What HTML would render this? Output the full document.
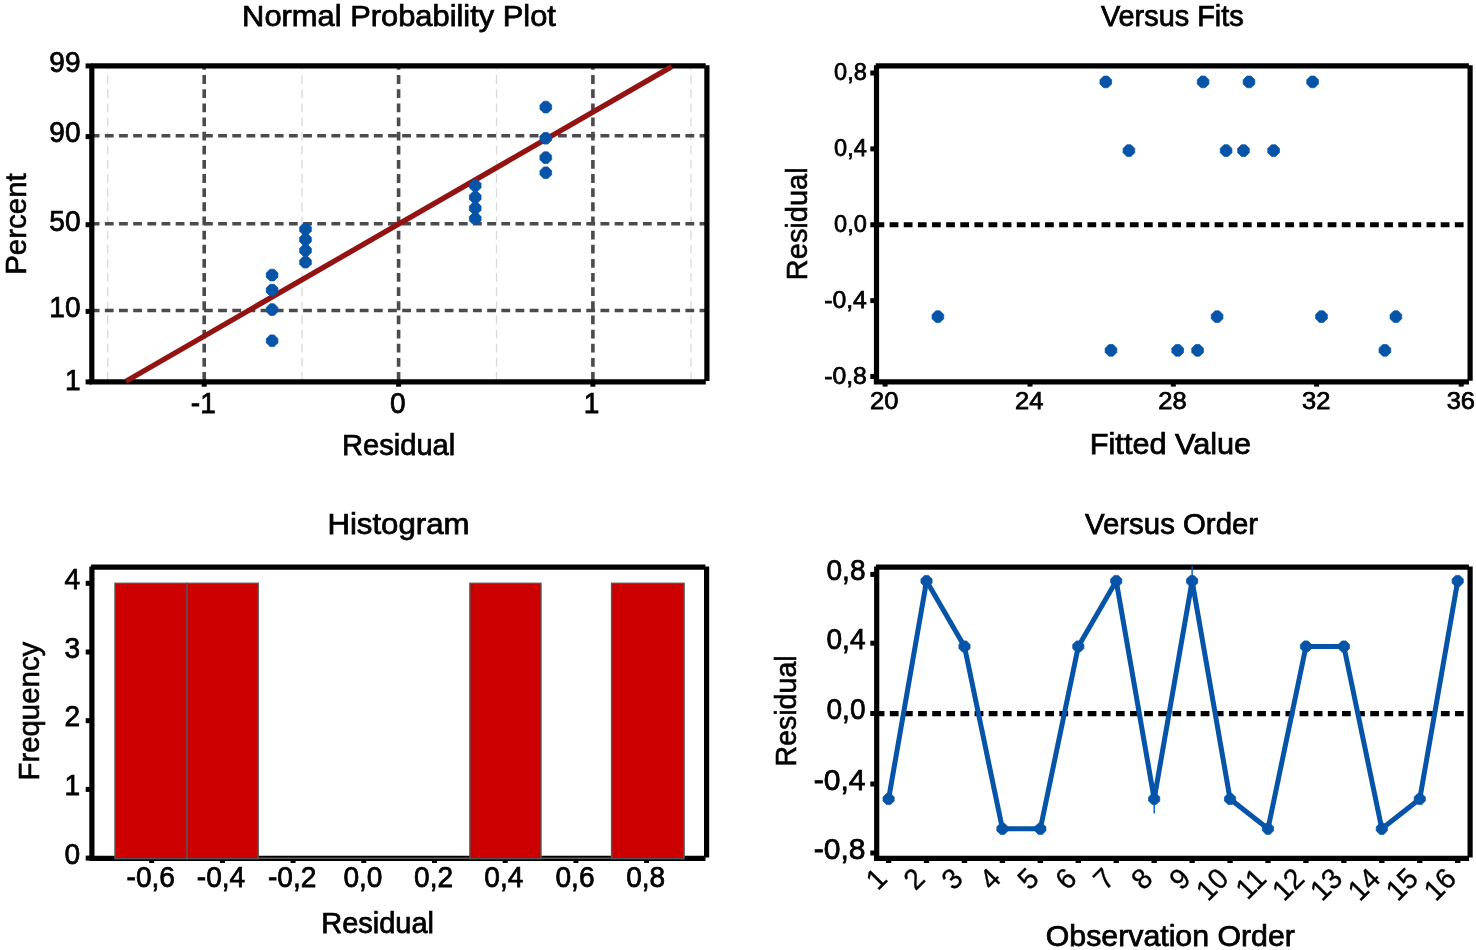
<!DOCTYPE html>
<html lang="en"><head><meta charset="utf-8"><title>Residual Plots</title>
<style>
html,body{margin:0;padding:0;background:#fff;}
body{width:1476px;height:950px;overflow:hidden;}
svg{display:block;}
svg text{font-family:"Liberation Sans", sans-serif;fill:#000;stroke:#000;stroke-width:0.75px;}
svg text.v{stroke-width:0.6px;}
svg text.r{stroke-width:0.35px;}
</style></head><body>
<svg width="1476" height="950" viewBox="0 0 1476 950">
<rect width="1476" height="950" fill="#fff"/>
<g>
<line x1="107.70" y1="380.85" x2="107.70" y2="65.90" stroke="#d8d8d8" stroke-width="1.25" stroke-dasharray="8.8 5.34"/>
<line x1="302.00" y1="380.85" x2="302.00" y2="65.90" stroke="#d8d8d8" stroke-width="1.25" stroke-dasharray="8.8 5.34"/>
<line x1="496.50" y1="380.85" x2="496.50" y2="65.90" stroke="#d8d8d8" stroke-width="1.25" stroke-dasharray="8.8 5.34"/>
<line x1="691.00" y1="380.85" x2="691.00" y2="65.90" stroke="#d8d8d8" stroke-width="1.25" stroke-dasharray="8.8 5.34"/>
<line x1="204.20" y1="380.85" x2="204.20" y2="65.90" stroke="#4b4b4b" stroke-width="3.6" stroke-dasharray="8.8 5.34"/>
<line x1="398.60" y1="380.85" x2="398.60" y2="65.90" stroke="#4b4b4b" stroke-width="3.6" stroke-dasharray="8.8 5.34"/>
<line x1="592.90" y1="380.85" x2="592.90" y2="65.90" stroke="#4b4b4b" stroke-width="3.6" stroke-dasharray="8.8 5.34"/>
<line x1="90.70" y1="135.70" x2="706.90" y2="135.70" stroke="#4b4b4b" stroke-width="3.6" stroke-dasharray="8.8 5.36"/>
<line x1="90.70" y1="223.80" x2="706.90" y2="223.80" stroke="#4b4b4b" stroke-width="3.6" stroke-dasharray="8.8 5.36"/>
<line x1="90.70" y1="310.50" x2="706.90" y2="310.50" stroke="#4b4b4b" stroke-width="3.6" stroke-dasharray="8.8 5.36"/>
<line x1="91.00" y1="65.90" x2="705.70" y2="65.90" stroke="#000" stroke-width="5.2"/>
<line x1="89.20" y1="381.90" x2="705.80" y2="381.90" stroke="#000" stroke-width="5.2"/>
<line x1="91.80" y1="65.30" x2="91.80" y2="383.50" stroke="#000" stroke-width="5.2"/>
<line x1="706.90" y1="65.30" x2="706.90" y2="380.90" stroke="#000" stroke-width="5.2"/>
<line x1="126.00" y1="381.21" x2="671.70" y2="66.59" stroke="#931212" stroke-width="5.3"/>
<polygon points="274.20,334.89 277.95,338.64 277.95,342.84 274.20,346.59 270.00,346.59 266.25,342.84 266.25,338.64 270.00,334.89" fill="#0554A8" stroke="#0554A8" stroke-width="0.7" stroke-linejoin="round"/>
<polygon points="274.20,303.69 277.95,307.44 277.95,311.64 274.20,315.39 270.00,315.39 266.25,311.64 266.25,307.44 270.00,303.69" fill="#0554A8" stroke="#0554A8" stroke-width="0.7" stroke-linejoin="round"/>
<polygon points="274.20,284.31 277.95,288.06 277.95,292.26 274.20,296.01 270.00,296.01 266.25,292.26 266.25,288.06 270.00,284.31" fill="#0554A8" stroke="#0554A8" stroke-width="0.7" stroke-linejoin="round"/>
<polygon points="274.20,269.22 277.95,272.97 277.95,277.17 274.20,280.92 270.00,280.92 266.25,277.17 266.25,272.97 270.00,269.22" fill="#0554A8" stroke="#0554A8" stroke-width="0.7" stroke-linejoin="round"/>
<polygon points="307.60,256.31 311.35,260.06 311.35,264.26 307.60,268.01 303.40,268.01 299.65,264.26 299.65,260.06 303.40,256.31" fill="#0554A8" stroke="#0554A8" stroke-width="0.7" stroke-linejoin="round"/>
<polygon points="307.60,244.67 311.35,248.42 311.35,252.62 307.60,256.37 303.40,256.37 299.65,252.62 299.65,248.42 303.40,244.67" fill="#0554A8" stroke="#0554A8" stroke-width="0.7" stroke-linejoin="round"/>
<polygon points="307.60,233.76 311.35,237.51 311.35,241.71 307.60,245.46 303.40,245.46 299.65,241.71 299.65,237.51 303.40,233.76" fill="#0554A8" stroke="#0554A8" stroke-width="0.7" stroke-linejoin="round"/>
<polygon points="307.60,223.25 311.35,227.00 311.35,231.20 307.60,234.95 303.40,234.95 299.65,231.20 299.65,227.00 303.40,223.25" fill="#0554A8" stroke="#0554A8" stroke-width="0.7" stroke-linejoin="round"/>
<polygon points="477.30,212.85 481.05,216.60 481.05,220.80 477.30,224.55 473.10,224.55 469.35,220.80 469.35,216.60 473.10,212.85" fill="#0554A8" stroke="#0554A8" stroke-width="0.7" stroke-linejoin="round"/>
<polygon points="477.30,202.34 481.05,206.09 481.05,210.29 477.30,214.04 473.10,214.04 469.35,210.29 469.35,206.09 473.10,202.34" fill="#0554A8" stroke="#0554A8" stroke-width="0.7" stroke-linejoin="round"/>
<polygon points="477.30,191.43 481.05,195.18 481.05,199.38 477.30,203.13 473.10,203.13 469.35,199.38 469.35,195.18 473.10,191.43" fill="#0554A8" stroke="#0554A8" stroke-width="0.7" stroke-linejoin="round"/>
<polygon points="477.30,179.79 481.05,183.54 481.05,187.74 477.30,191.49 473.10,191.49 469.35,187.74 469.35,183.54 473.10,179.79" fill="#0554A8" stroke="#0554A8" stroke-width="0.7" stroke-linejoin="round"/>
<polygon points="547.90,166.88 551.65,170.63 551.65,174.83 547.90,178.58 543.70,178.58 539.95,174.83 539.95,170.63 543.70,166.88" fill="#0554A8" stroke="#0554A8" stroke-width="0.7" stroke-linejoin="round"/>
<polygon points="547.90,151.79 551.65,155.54 551.65,159.74 547.90,163.49 543.70,163.49 539.95,159.74 539.95,155.54 543.70,151.79" fill="#0554A8" stroke="#0554A8" stroke-width="0.7" stroke-linejoin="round"/>
<polygon points="547.90,132.41 551.65,136.16 551.65,140.36 547.90,144.11 543.70,144.11 539.95,140.36 539.95,136.16 543.70,132.41" fill="#0554A8" stroke="#0554A8" stroke-width="0.7" stroke-linejoin="round"/>
<polygon points="547.90,101.21 551.65,104.96 551.65,109.16 547.90,112.91 543.70,112.91 539.95,109.16 539.95,104.96 543.70,101.21" fill="#0554A8" stroke="#0554A8" stroke-width="0.7" stroke-linejoin="round"/>
<line x1="85.60" y1="65.90" x2="91.80" y2="65.90" stroke="#000" stroke-width="5.0"/>
<line x1="85.60" y1="136.60" x2="91.80" y2="136.60" stroke="#000" stroke-width="5.0"/>
<line x1="85.60" y1="224.70" x2="91.80" y2="224.70" stroke="#000" stroke-width="5.0"/>
<line x1="85.60" y1="311.40" x2="91.80" y2="311.40" stroke="#000" stroke-width="5.0"/>
<line x1="85.60" y1="381.90" x2="91.80" y2="381.90" stroke="#000" stroke-width="5.0"/>
<line x1="204.20" y1="381.90" x2="204.20" y2="386.70" stroke="#000" stroke-width="5.0"/>
<line x1="398.60" y1="381.90" x2="398.60" y2="386.70" stroke="#000" stroke-width="5.0"/>
<line x1="592.90" y1="381.90" x2="592.90" y2="386.70" stroke="#000" stroke-width="5.0"/>
<line x1="875.70" y1="65.95" x2="1468.90" y2="65.95" stroke="#000" stroke-width="5.2"/>
<line x1="873.90" y1="381.80" x2="1469.00" y2="381.80" stroke="#000" stroke-width="5.2"/>
<line x1="876.50" y1="65.35" x2="876.50" y2="383.40" stroke="#000" stroke-width="5.2"/>
<line x1="1470.10" y1="65.35" x2="1470.10" y2="380.80" stroke="#000" stroke-width="5.2"/>
<line x1="875.50" y1="224.75" x2="1470.10" y2="224.75" stroke="#000" stroke-width="5.1" stroke-dasharray="8.75 5.38"/>
<polygon points="1107.90,76.06 1111.65,79.81 1111.65,84.01 1107.90,87.76 1103.70,87.76 1099.95,84.01 1099.95,79.81 1103.70,76.06" fill="#0554A8" stroke="#0554A8" stroke-width="0.7" stroke-linejoin="round"/>
<polygon points="1205.20,76.06 1208.95,79.81 1208.95,84.01 1205.20,87.76 1201.00,87.76 1197.25,84.01 1197.25,79.81 1201.00,76.06" fill="#0554A8" stroke="#0554A8" stroke-width="0.7" stroke-linejoin="round"/>
<polygon points="1251.10,76.06 1254.85,79.81 1254.85,84.01 1251.10,87.76 1246.90,87.76 1243.15,84.01 1243.15,79.81 1246.90,76.06" fill="#0554A8" stroke="#0554A8" stroke-width="0.7" stroke-linejoin="round"/>
<polygon points="1314.70,76.06 1318.45,79.81 1318.45,84.01 1314.70,87.76 1310.50,87.76 1306.75,84.01 1306.75,79.81 1310.50,76.06" fill="#0554A8" stroke="#0554A8" stroke-width="0.7" stroke-linejoin="round"/>
<polygon points="1131.00,144.73 1134.75,148.48 1134.75,152.68 1131.00,156.43 1126.80,156.43 1123.05,152.68 1123.05,148.48 1126.80,144.73" fill="#0554A8" stroke="#0554A8" stroke-width="0.7" stroke-linejoin="round"/>
<polygon points="1228.20,144.73 1231.95,148.48 1231.95,152.68 1228.20,156.43 1224.00,156.43 1220.25,152.68 1220.25,148.48 1224.00,144.73" fill="#0554A8" stroke="#0554A8" stroke-width="0.7" stroke-linejoin="round"/>
<polygon points="1245.60,144.73 1249.35,148.48 1249.35,152.68 1245.60,156.43 1241.40,156.43 1237.65,152.68 1237.65,148.48 1241.40,144.73" fill="#0554A8" stroke="#0554A8" stroke-width="0.7" stroke-linejoin="round"/>
<polygon points="1275.70,144.73 1279.45,148.48 1279.45,152.68 1275.70,156.43 1271.50,156.43 1267.75,152.68 1267.75,148.48 1271.50,144.73" fill="#0554A8" stroke="#0554A8" stroke-width="0.7" stroke-linejoin="round"/>
<polygon points="940.00,310.81 943.75,314.56 943.75,318.76 940.00,322.51 935.80,322.51 932.05,318.76 932.05,314.56 935.80,310.81" fill="#0554A8" stroke="#0554A8" stroke-width="0.7" stroke-linejoin="round"/>
<polygon points="1219.20,310.81 1222.95,314.56 1222.95,318.76 1219.20,322.51 1215.00,322.51 1211.25,318.76 1211.25,314.56 1215.00,310.81" fill="#0554A8" stroke="#0554A8" stroke-width="0.7" stroke-linejoin="round"/>
<polygon points="1323.60,310.81 1327.35,314.56 1327.35,318.76 1323.60,322.51 1319.40,322.51 1315.65,318.76 1315.65,314.56 1319.40,310.81" fill="#0554A8" stroke="#0554A8" stroke-width="0.7" stroke-linejoin="round"/>
<polygon points="1398.00,310.81 1401.75,314.56 1401.75,318.76 1398.00,322.51 1393.80,322.51 1390.05,318.76 1390.05,314.56 1393.80,310.81" fill="#0554A8" stroke="#0554A8" stroke-width="0.7" stroke-linejoin="round"/>
<polygon points="1113.10,344.48 1116.85,348.23 1116.85,352.43 1113.10,356.18 1108.90,356.18 1105.15,352.43 1105.15,348.23 1108.90,344.48" fill="#0554A8" stroke="#0554A8" stroke-width="0.7" stroke-linejoin="round"/>
<polygon points="1179.80,344.48 1183.55,348.23 1183.55,352.43 1179.80,356.18 1175.60,356.18 1171.85,352.43 1171.85,348.23 1175.60,344.48" fill="#0554A8" stroke="#0554A8" stroke-width="0.7" stroke-linejoin="round"/>
<polygon points="1199.70,344.48 1203.45,348.23 1203.45,352.43 1199.70,356.18 1195.50,356.18 1191.75,352.43 1191.75,348.23 1195.50,344.48" fill="#0554A8" stroke="#0554A8" stroke-width="0.7" stroke-linejoin="round"/>
<polygon points="1387.00,344.48 1390.75,348.23 1390.75,352.43 1387.00,356.18 1382.80,356.18 1379.05,352.43 1379.05,348.23 1382.80,344.48" fill="#0554A8" stroke="#0554A8" stroke-width="0.7" stroke-linejoin="round"/>
<line x1="870.30" y1="72.99" x2="876.50" y2="72.99" stroke="#000" stroke-width="5.0"/>
<line x1="870.30" y1="148.87" x2="876.50" y2="148.87" stroke="#000" stroke-width="5.0"/>
<line x1="870.30" y1="224.75" x2="876.50" y2="224.75" stroke="#000" stroke-width="5.0"/>
<line x1="870.30" y1="300.63" x2="876.50" y2="300.63" stroke="#000" stroke-width="5.0"/>
<line x1="870.30" y1="376.51" x2="876.50" y2="376.51" stroke="#000" stroke-width="5.0"/>
<line x1="885.10" y1="381.80" x2="885.10" y2="386.60" stroke="#000" stroke-width="5.0"/>
<line x1="1030.00" y1="381.80" x2="1030.00" y2="386.60" stroke="#000" stroke-width="5.0"/>
<line x1="1173.30" y1="381.80" x2="1173.30" y2="386.60" stroke="#000" stroke-width="5.0"/>
<line x1="1316.60" y1="381.80" x2="1316.60" y2="386.60" stroke="#000" stroke-width="5.0"/>
<line x1="1461.20" y1="381.80" x2="1461.20" y2="386.60" stroke="#000" stroke-width="5.0"/>
<line x1="91.10" y1="567.20" x2="705.40" y2="567.20" stroke="#000" stroke-width="5.2"/>
<line x1="89.30" y1="858.40" x2="705.50" y2="858.40" stroke="#000" stroke-width="5.2"/>
<line x1="91.90" y1="566.60" x2="91.90" y2="860.00" stroke="#000" stroke-width="5.2"/>
<line x1="706.60" y1="566.60" x2="706.60" y2="857.40" stroke="#000" stroke-width="5.2"/>
<line x1="151.70" y1="858.40" x2="151.70" y2="863.00" stroke="#000" stroke-width="5.0"/>
<line x1="222.40" y1="858.40" x2="222.40" y2="863.00" stroke="#000" stroke-width="5.0"/>
<line x1="293.10" y1="858.40" x2="293.10" y2="863.00" stroke="#000" stroke-width="5.0"/>
<line x1="363.80" y1="858.40" x2="363.80" y2="863.00" stroke="#000" stroke-width="5.0"/>
<line x1="434.50" y1="858.40" x2="434.50" y2="863.00" stroke="#000" stroke-width="5.0"/>
<line x1="505.20" y1="858.40" x2="505.20" y2="863.00" stroke="#000" stroke-width="5.0"/>
<line x1="575.90" y1="858.40" x2="575.90" y2="863.00" stroke="#000" stroke-width="5.0"/>
<line x1="646.60" y1="858.40" x2="646.60" y2="863.00" stroke="#000" stroke-width="5.0"/>
<line x1="115.00" y1="858.30" x2="684.10" y2="858.30" stroke="#5a5a5a" stroke-width="1.5"/>
<rect x="115.00" y="583.30" width="72.20" height="275.40" fill="#CC0000" stroke="#555" stroke-width="1.4"/>
<rect x="187.20" y="583.30" width="71.00" height="275.40" fill="#CC0000" stroke="#555" stroke-width="1.4"/>
<rect x="469.90" y="583.30" width="71.10" height="275.40" fill="#CC0000" stroke="#555" stroke-width="1.4"/>
<rect x="611.60" y="583.30" width="72.50" height="275.40" fill="#CC0000" stroke="#555" stroke-width="1.4"/>
<line x1="85.70" y1="858.10" x2="91.90" y2="858.10" stroke="#000" stroke-width="5.0"/>
<line x1="85.70" y1="789.40" x2="91.90" y2="789.40" stroke="#000" stroke-width="5.0"/>
<line x1="85.70" y1="720.70" x2="91.90" y2="720.70" stroke="#000" stroke-width="5.0"/>
<line x1="85.70" y1="652.00" x2="91.90" y2="652.00" stroke="#000" stroke-width="5.0"/>
<line x1="85.70" y1="583.30" x2="91.90" y2="583.30" stroke="#000" stroke-width="5.0"/>
<line x1="875.90" y1="567.20" x2="1468.90" y2="567.20" stroke="#000" stroke-width="5.2"/>
<line x1="874.10" y1="858.40" x2="1469.00" y2="858.40" stroke="#000" stroke-width="5.2"/>
<line x1="876.70" y1="566.60" x2="876.70" y2="860.00" stroke="#000" stroke-width="5.2"/>
<line x1="1470.10" y1="566.60" x2="1470.10" y2="857.40" stroke="#000" stroke-width="5.2"/>
<line x1="875.70" y1="713.60" x2="1470.10" y2="713.60" stroke="#000" stroke-width="5.1" stroke-dasharray="8.75 5.38"/>
<polyline fill="none" stroke="#0554A8" stroke-width="5.0" stroke-linejoin="round" points="888.60,799.00 926.54,581.00 964.48,646.50 1002.42,828.80 1040.36,828.80 1078.30,646.50 1116.24,581.00 1154.18,799.00 1192.12,581.00 1230.06,799.00 1268.00,828.80 1305.94,646.50 1343.88,646.50 1381.82,828.80 1419.76,799.00 1457.70,581.00"/>
<line x1="1192.12" y1="581.00" x2="1192.12" y2="566.00" stroke="#0554A8" stroke-width="1.4"/>
<line x1="1154.18" y1="799.00" x2="1154.18" y2="813.60" stroke="#0554A8" stroke-width="1.4"/>
<polygon points="890.60,793.40 894.20,797.00 894.20,801.00 890.60,804.60 886.60,804.60 883.00,801.00 883.00,797.00 886.60,793.40" fill="#0554A8" stroke="#0554A8" stroke-width="0.7" stroke-linejoin="round"/>
<polygon points="928.54,575.40 932.14,579.00 932.14,583.00 928.54,586.60 924.54,586.60 920.94,583.00 920.94,579.00 924.54,575.40" fill="#0554A8" stroke="#0554A8" stroke-width="0.7" stroke-linejoin="round"/>
<polygon points="966.48,640.90 970.08,644.50 970.08,648.50 966.48,652.10 962.48,652.10 958.88,648.50 958.88,644.50 962.48,640.90" fill="#0554A8" stroke="#0554A8" stroke-width="0.7" stroke-linejoin="round"/>
<polygon points="1004.42,823.20 1008.02,826.80 1008.02,830.80 1004.42,834.40 1000.42,834.40 996.82,830.80 996.82,826.80 1000.42,823.20" fill="#0554A8" stroke="#0554A8" stroke-width="0.7" stroke-linejoin="round"/>
<polygon points="1042.36,823.20 1045.96,826.80 1045.96,830.80 1042.36,834.40 1038.36,834.40 1034.76,830.80 1034.76,826.80 1038.36,823.20" fill="#0554A8" stroke="#0554A8" stroke-width="0.7" stroke-linejoin="round"/>
<polygon points="1080.30,640.90 1083.90,644.50 1083.90,648.50 1080.30,652.10 1076.30,652.10 1072.70,648.50 1072.70,644.50 1076.30,640.90" fill="#0554A8" stroke="#0554A8" stroke-width="0.7" stroke-linejoin="round"/>
<polygon points="1118.24,575.40 1121.84,579.00 1121.84,583.00 1118.24,586.60 1114.24,586.60 1110.64,583.00 1110.64,579.00 1114.24,575.40" fill="#0554A8" stroke="#0554A8" stroke-width="0.7" stroke-linejoin="round"/>
<polygon points="1156.18,793.40 1159.78,797.00 1159.78,801.00 1156.18,804.60 1152.18,804.60 1148.58,801.00 1148.58,797.00 1152.18,793.40" fill="#0554A8" stroke="#0554A8" stroke-width="0.7" stroke-linejoin="round"/>
<polygon points="1194.12,575.40 1197.72,579.00 1197.72,583.00 1194.12,586.60 1190.12,586.60 1186.52,583.00 1186.52,579.00 1190.12,575.40" fill="#0554A8" stroke="#0554A8" stroke-width="0.7" stroke-linejoin="round"/>
<polygon points="1232.06,793.40 1235.66,797.00 1235.66,801.00 1232.06,804.60 1228.06,804.60 1224.46,801.00 1224.46,797.00 1228.06,793.40" fill="#0554A8" stroke="#0554A8" stroke-width="0.7" stroke-linejoin="round"/>
<polygon points="1270.00,823.20 1273.60,826.80 1273.60,830.80 1270.00,834.40 1266.00,834.40 1262.40,830.80 1262.40,826.80 1266.00,823.20" fill="#0554A8" stroke="#0554A8" stroke-width="0.7" stroke-linejoin="round"/>
<polygon points="1307.94,640.90 1311.54,644.50 1311.54,648.50 1307.94,652.10 1303.94,652.10 1300.34,648.50 1300.34,644.50 1303.94,640.90" fill="#0554A8" stroke="#0554A8" stroke-width="0.7" stroke-linejoin="round"/>
<polygon points="1345.88,640.90 1349.48,644.50 1349.48,648.50 1345.88,652.10 1341.88,652.10 1338.28,648.50 1338.28,644.50 1341.88,640.90" fill="#0554A8" stroke="#0554A8" stroke-width="0.7" stroke-linejoin="round"/>
<polygon points="1383.82,823.20 1387.42,826.80 1387.42,830.80 1383.82,834.40 1379.82,834.40 1376.22,830.80 1376.22,826.80 1379.82,823.20" fill="#0554A8" stroke="#0554A8" stroke-width="0.7" stroke-linejoin="round"/>
<polygon points="1421.76,793.40 1425.36,797.00 1425.36,801.00 1421.76,804.60 1417.76,804.60 1414.16,801.00 1414.16,797.00 1417.76,793.40" fill="#0554A8" stroke="#0554A8" stroke-width="0.7" stroke-linejoin="round"/>
<polygon points="1459.70,575.40 1463.30,579.00 1463.30,583.00 1459.70,586.60 1455.70,586.60 1452.10,583.00 1452.10,579.00 1455.70,575.40" fill="#0554A8" stroke="#0554A8" stroke-width="0.7" stroke-linejoin="round"/>
<line x1="870.30" y1="574.40" x2="876.70" y2="574.40" stroke="#000" stroke-width="5.0"/>
<line x1="870.30" y1="643.20" x2="876.70" y2="643.20" stroke="#000" stroke-width="5.0"/>
<line x1="870.30" y1="713.50" x2="876.70" y2="713.50" stroke="#000" stroke-width="5.0"/>
<line x1="870.30" y1="784.00" x2="876.70" y2="784.00" stroke="#000" stroke-width="5.0"/>
<line x1="870.30" y1="853.00" x2="876.70" y2="853.00" stroke="#000" stroke-width="5.0"/>
<line x1="888.60" y1="858.40" x2="888.60" y2="863.00" stroke="#000" stroke-width="5.4"/>
<line x1="926.54" y1="858.40" x2="926.54" y2="863.00" stroke="#000" stroke-width="5.4"/>
<line x1="964.48" y1="858.40" x2="964.48" y2="863.00" stroke="#000" stroke-width="5.4"/>
<line x1="1002.42" y1="858.40" x2="1002.42" y2="863.00" stroke="#000" stroke-width="5.4"/>
<line x1="1040.36" y1="858.40" x2="1040.36" y2="863.00" stroke="#000" stroke-width="5.4"/>
<line x1="1078.30" y1="858.40" x2="1078.30" y2="863.00" stroke="#000" stroke-width="5.4"/>
<line x1="1116.24" y1="858.40" x2="1116.24" y2="863.00" stroke="#000" stroke-width="5.4"/>
<line x1="1154.18" y1="858.40" x2="1154.18" y2="863.00" stroke="#000" stroke-width="5.4"/>
<line x1="1192.12" y1="858.40" x2="1192.12" y2="863.00" stroke="#000" stroke-width="5.4"/>
<line x1="1230.06" y1="858.40" x2="1230.06" y2="863.00" stroke="#000" stroke-width="5.4"/>
<line x1="1268.00" y1="858.40" x2="1268.00" y2="863.00" stroke="#000" stroke-width="5.4"/>
<line x1="1305.94" y1="858.40" x2="1305.94" y2="863.00" stroke="#000" stroke-width="5.4"/>
<line x1="1343.88" y1="858.40" x2="1343.88" y2="863.00" stroke="#000" stroke-width="5.4"/>
<line x1="1381.82" y1="858.40" x2="1381.82" y2="863.00" stroke="#000" stroke-width="5.4"/>
<line x1="1419.76" y1="858.40" x2="1419.76" y2="863.00" stroke="#000" stroke-width="5.4"/>
<line x1="1457.70" y1="858.40" x2="1457.70" y2="863.00" stroke="#000" stroke-width="5.4"/>
</g>
<g>
<text x="49.37" y="71.60" font-size="28.8" textLength="31.23" lengthAdjust="spacingAndGlyphs">99</text>
<text x="49.37" y="142.40" font-size="28.8" textLength="31.23" lengthAdjust="spacingAndGlyphs">90</text>
<text x="49.37" y="231.20" font-size="28.8" textLength="31.23" lengthAdjust="spacingAndGlyphs">50</text>
<text x="49.37" y="316.90" font-size="28.8" textLength="31.23" lengthAdjust="spacingAndGlyphs">10</text>
<text x="64.98" y="389.60" font-size="28.8" textLength="15.62" lengthAdjust="spacingAndGlyphs">1</text>
<text x="190.83" y="412.60" font-size="28.8" textLength="24.96" lengthAdjust="spacingAndGlyphs">-1</text>
<text x="389.90" y="412.60" font-size="28.8" textLength="15.62" lengthAdjust="spacingAndGlyphs">0</text>
<text x="583.71" y="412.60" font-size="28.8" textLength="15.62" lengthAdjust="spacingAndGlyphs">1</text>
<text x="242.13" y="25.50" font-size="29.8" textLength="313.82" lengthAdjust="spacingAndGlyphs">Normal Probability Plot</text>
<text x="341.94" y="454.80" font-size="29.8" textLength="113.34" lengthAdjust="spacingAndGlyphs">Residual</text>
<text transform="translate(26.10,272.80) rotate(-90)" x="-1.98" y="0" class="v" font-size="29.8" textLength="101.46" lengthAdjust="spacingAndGlyphs">Percent</text>
<text x="834.04" y="79.99" font-size="24.3" textLength="32.76" lengthAdjust="spacingAndGlyphs">0,8</text>
<text x="834.04" y="155.87" font-size="24.3" textLength="32.76" lengthAdjust="spacingAndGlyphs">0,4</text>
<text x="834.04" y="231.75" font-size="24.3" textLength="32.76" lengthAdjust="spacingAndGlyphs">0,0</text>
<text x="824.16" y="307.63" font-size="24.3" textLength="42.64" lengthAdjust="spacingAndGlyphs">-0,4</text>
<text x="824.16" y="383.51" font-size="24.3" textLength="42.64" lengthAdjust="spacingAndGlyphs">-0,8</text>
<text x="870.06" y="409.00" font-size="24.3" textLength="28.38" lengthAdjust="spacingAndGlyphs">20</text>
<text x="1014.96" y="409.00" font-size="24.3" textLength="28.38" lengthAdjust="spacingAndGlyphs">24</text>
<text x="1158.26" y="409.00" font-size="24.3" textLength="28.38" lengthAdjust="spacingAndGlyphs">28</text>
<text x="1302.08" y="409.00" font-size="24.3" textLength="28.38" lengthAdjust="spacingAndGlyphs">32</text>
<text x="1446.68" y="409.00" font-size="24.3" textLength="28.38" lengthAdjust="spacingAndGlyphs">36</text>
<text x="1100.90" y="25.50" font-size="29.8" textLength="142.77" lengthAdjust="spacingAndGlyphs">Versus Fits</text>
<text x="1089.84" y="454.40" font-size="29.8" textLength="161.35" lengthAdjust="spacingAndGlyphs">Fitted Value</text>
<text transform="translate(806.80,278.20) rotate(-90)" x="-1.94" y="0" class="v" font-size="29.8" textLength="112.72" lengthAdjust="spacingAndGlyphs">Residual</text>
<text x="64.38" y="863.80" font-size="28.8" textLength="15.62" lengthAdjust="spacingAndGlyphs">0</text>
<text x="64.38" y="795.10" font-size="28.8" textLength="15.62" lengthAdjust="spacingAndGlyphs">1</text>
<text x="64.38" y="726.40" font-size="28.8" textLength="15.62" lengthAdjust="spacingAndGlyphs">2</text>
<text x="64.38" y="657.70" font-size="28.8" textLength="15.62" lengthAdjust="spacingAndGlyphs">3</text>
<text x="64.38" y="589.00" font-size="28.8" textLength="15.62" lengthAdjust="spacingAndGlyphs">4</text>
<text x="126.62" y="887.40" font-size="28.8" textLength="48.38" lengthAdjust="spacingAndGlyphs">-0,6</text>
<text x="196.83" y="887.40" font-size="28.8" textLength="48.38" lengthAdjust="spacingAndGlyphs">-0,4</text>
<text x="268.02" y="887.40" font-size="28.8" textLength="48.38" lengthAdjust="spacingAndGlyphs">-0,2</text>
<text x="343.39" y="887.40" font-size="28.8" textLength="39.03" lengthAdjust="spacingAndGlyphs">0,0</text>
<text x="414.09" y="887.40" font-size="28.8" textLength="39.03" lengthAdjust="spacingAndGlyphs">0,2</text>
<text x="484.30" y="887.40" font-size="28.8" textLength="39.03" lengthAdjust="spacingAndGlyphs">0,4</text>
<text x="555.49" y="887.40" font-size="28.8" textLength="39.03" lengthAdjust="spacingAndGlyphs">0,6</text>
<text x="626.19" y="887.40" font-size="28.8" textLength="39.03" lengthAdjust="spacingAndGlyphs">0,8</text>
<text x="327.41" y="534.30" font-size="29.8" textLength="142.10" lengthAdjust="spacingAndGlyphs">Histogram</text>
<text x="321.25" y="933.30" font-size="29.8" textLength="112.82" lengthAdjust="spacingAndGlyphs">Residual</text>
<text transform="translate(39.20,778.60) rotate(-90)" x="-1.97" y="0" class="v" font-size="29.8" textLength="138.87" lengthAdjust="spacingAndGlyphs">Frequency</text>
<text x="826.47" y="580.20" font-size="28.8" textLength="39.03" lengthAdjust="spacingAndGlyphs">0,8</text>
<text x="826.47" y="649.00" font-size="28.8" textLength="39.03" lengthAdjust="spacingAndGlyphs">0,4</text>
<text x="826.47" y="719.30" font-size="28.8" textLength="39.03" lengthAdjust="spacingAndGlyphs">0,0</text>
<text x="813.73" y="789.80" font-size="28.8" textLength="51.77" lengthAdjust="spacingAndGlyphs">-0,4</text>
<text x="813.73" y="858.80" font-size="28.8" textLength="51.77" lengthAdjust="spacingAndGlyphs">-0,8</text>
<text transform="translate(888.70,880.20) rotate(-45)" x="-15.62" y="0" class="r" font-size="28.8" textLength="15.62" lengthAdjust="spacingAndGlyphs">1</text>
<text transform="translate(926.64,880.20) rotate(-45)" x="-15.62" y="0" class="r" font-size="28.8" textLength="15.62" lengthAdjust="spacingAndGlyphs">2</text>
<text transform="translate(964.58,880.20) rotate(-45)" x="-15.62" y="0" class="r" font-size="28.8" textLength="15.62" lengthAdjust="spacingAndGlyphs">3</text>
<text transform="translate(1002.52,880.20) rotate(-45)" x="-15.62" y="0" class="r" font-size="28.8" textLength="15.62" lengthAdjust="spacingAndGlyphs">4</text>
<text transform="translate(1040.46,880.20) rotate(-45)" x="-15.62" y="0" class="r" font-size="28.8" textLength="15.62" lengthAdjust="spacingAndGlyphs">5</text>
<text transform="translate(1078.40,880.20) rotate(-45)" x="-15.62" y="0" class="r" font-size="28.8" textLength="15.62" lengthAdjust="spacingAndGlyphs">6</text>
<text transform="translate(1116.34,880.20) rotate(-45)" x="-15.62" y="0" class="r" font-size="28.8" textLength="15.62" lengthAdjust="spacingAndGlyphs">7</text>
<text transform="translate(1154.28,880.20) rotate(-45)" x="-15.62" y="0" class="r" font-size="28.8" textLength="15.62" lengthAdjust="spacingAndGlyphs">8</text>
<text transform="translate(1192.22,880.20) rotate(-45)" x="-15.62" y="0" class="r" font-size="28.8" textLength="15.62" lengthAdjust="spacingAndGlyphs">9</text>
<text transform="translate(1230.16,880.20) rotate(-45)" x="-31.23" y="0" class="r" font-size="28.8" textLength="31.23" lengthAdjust="spacingAndGlyphs">10</text>
<text transform="translate(1268.10,880.20) rotate(-45)" x="-29.15" y="0" class="r" font-size="28.8" textLength="29.15" lengthAdjust="spacingAndGlyphs">11</text>
<text transform="translate(1306.04,880.20) rotate(-45)" x="-31.23" y="0" class="r" font-size="28.8" textLength="31.23" lengthAdjust="spacingAndGlyphs">12</text>
<text transform="translate(1343.98,880.20) rotate(-45)" x="-31.23" y="0" class="r" font-size="28.8" textLength="31.23" lengthAdjust="spacingAndGlyphs">13</text>
<text transform="translate(1381.92,880.20) rotate(-45)" x="-31.23" y="0" class="r" font-size="28.8" textLength="31.23" lengthAdjust="spacingAndGlyphs">14</text>
<text transform="translate(1419.86,880.20) rotate(-45)" x="-31.23" y="0" class="r" font-size="28.8" textLength="31.23" lengthAdjust="spacingAndGlyphs">15</text>
<text transform="translate(1457.80,880.20) rotate(-45)" x="-31.23" y="0" class="r" font-size="28.8" textLength="31.23" lengthAdjust="spacingAndGlyphs">16</text>
<text x="1085.00" y="534.30" font-size="29.8" textLength="173.12" lengthAdjust="spacingAndGlyphs">Versus Order</text>
<text x="1045.78" y="946.10" font-size="29.8" textLength="249.14" lengthAdjust="spacingAndGlyphs">Observation Order</text>
<text transform="translate(796.20,764.70) rotate(-90)" x="-1.92" y="0" class="v" font-size="29.8" textLength="111.27" lengthAdjust="spacingAndGlyphs">Residual</text>
</g>
</svg>
</body></html>
